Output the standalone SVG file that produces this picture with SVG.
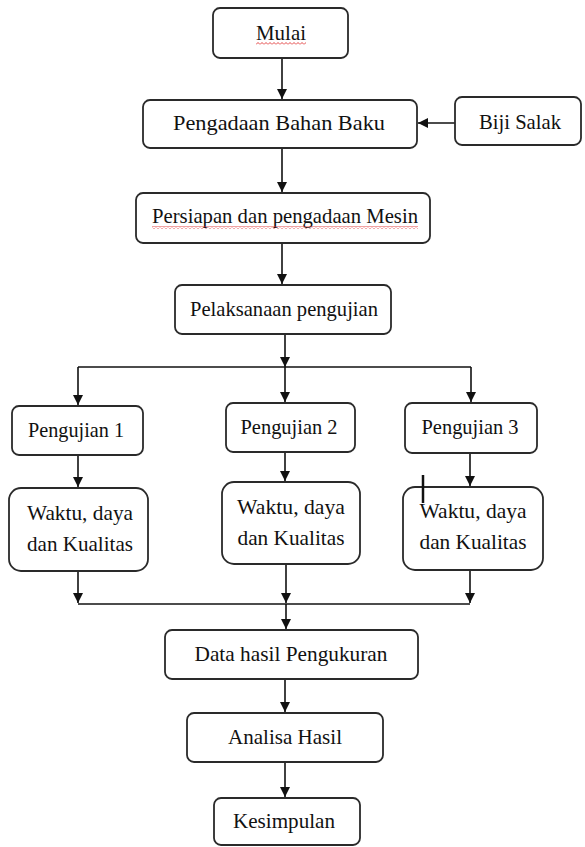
<svg xmlns="http://www.w3.org/2000/svg" width="585" height="847" viewBox="0 0 585 847">
<style>
.box{fill:#fff;stroke:#2a2a2a;stroke-width:1.8}
.t{font-family:'Liberation Serif','Times New Roman',serif;font-size:21px;fill:#111;text-anchor:middle}
.c{fill:none;stroke:#111;stroke-width:1.6}
</style>
<defs>
<marker id="ah" markerUnits="userSpaceOnUse" viewBox="0 0 10 10" refX="10" refY="5" markerWidth="10" markerHeight="11" orient="auto">
<path d="M0,0 L10,5 L0,10 z" fill="#111"/>
</marker>
<pattern id="wavy" width="4" height="3" patternUnits="userSpaceOnUse">
<path d="M0,2.5 L2,0.5 L4,2.5" fill="none" stroke="#e03030" stroke-width="0.9"/>
</pattern>
</defs>
<rect width="585" height="847" fill="#fff"/>
<g id="connectors">
<path class="c" d="M282,58 V99" marker-end="url(#ah)"/>
<path class="c" d="M455,123 H418" marker-end="url(#ah)"/>
<path class="c" d="M282,148 V192" marker-end="url(#ah)"/>
<path class="c" d="M282,243 V284" marker-end="url(#ah)"/>
<path class="c" d="M285,334 V367" marker-end="url(#ah)"/>
<path class="c" d="M78,367 H471"/>
<path class="c" d="M78,367 V405" marker-end="url(#ah)"/>
<path class="c" d="M285,367 V402" marker-end="url(#ah)"/>
<path class="c" d="M471,367 V402" marker-end="url(#ah)"/>
<path class="c" d="M78,455 V487" marker-end="url(#ah)"/>
<path class="c" d="M285,452 V481" marker-end="url(#ah)"/>
<path class="c" d="M470,453 V486" marker-end="url(#ah)"/>
<path class="c" d="M78,571 V603" marker-end="url(#ah)"/>
<path class="c" d="M286,564 V603" marker-end="url(#ah)"/>
<path class="c" d="M470,570 V603" marker-end="url(#ah)"/>
<path class="c" d="M78,604 H470"/>
<path class="c" d="M286,604 V629" marker-end="url(#ah)"/>
<path class="c" d="M285,679 V712" marker-end="url(#ah)"/>
<path class="c" d="M285,762 V797" marker-end="url(#ah)"/>
</g>
<g id="mulai">
<rect class="box" x="213" y="8" width="135" height="50" rx="7"/>
<text class="t" x="281" y="40" textLength="50" lengthAdjust="spacingAndGlyphs">Mulai</text>
<rect x="256" y="42" width="50" height="3" fill="url(#wavy)"/>
</g>
<g id="pengadaan">
<rect class="box" x="143" y="100" width="274" height="48" rx="7"/>
<text class="t" x="279" y="130" textLength="212" lengthAdjust="spacingAndGlyphs">Pengadaan Bahan Baku</text>
</g>
<g id="biji-salak">
<rect class="box" x="455" y="97" width="126" height="48" rx="7"/>
<text class="t" x="520" y="129" textLength="82" lengthAdjust="spacingAndGlyphs">Biji Salak</text>
</g>
<g id="persiapan">
<rect class="box" x="136" y="193" width="294" height="50" rx="7"/>
<text class="t" x="285" y="223" textLength="266" lengthAdjust="spacingAndGlyphs">Persiapan dan pengadaan Mesin</text>
<rect x="152" y="226" width="266" height="3" fill="url(#wavy)"/>
</g>
<g id="pelaksanaan">
<rect class="box" x="175" y="285" width="216" height="49" rx="7"/>
<text class="t" x="284" y="316" textLength="188" lengthAdjust="spacingAndGlyphs">Pelaksanaan pengujian</text>
</g>
<g id="pengujian1">
<rect class="box" x="12" y="406" width="131" height="49" rx="7"/>
<text class="t" x="76" y="437" textLength="96" lengthAdjust="spacingAndGlyphs">Pengujian 1</text>
</g>
<g id="pengujian2">
<rect class="box" x="226" y="403" width="129" height="49" rx="7"/>
<text class="t" x="289" y="434" textLength="97" lengthAdjust="spacingAndGlyphs">Pengujian 2</text>
</g>
<g id="pengujian3">
<rect class="box" x="405" y="403" width="132" height="50" rx="7"/>
<text class="t" x="470" y="434" textLength="97" lengthAdjust="spacingAndGlyphs">Pengujian 3</text>
</g>
<g id="waktu1">
<rect class="box" x="9" y="488" width="139" height="83" rx="12"/>
<text class="t" x="80" y="520" textLength="106" lengthAdjust="spacingAndGlyphs">Waktu, daya</text>
<text class="t" x="80" y="551" textLength="106" lengthAdjust="spacingAndGlyphs">dan Kualitas</text>
</g>
<g id="waktu2">
<rect class="box" x="222" y="482" width="138" height="82" rx="12"/>
<text class="t" x="291" y="514" textLength="108" lengthAdjust="spacingAndGlyphs">Waktu, daya</text>
<text class="t" x="291" y="545" textLength="107" lengthAdjust="spacingAndGlyphs">dan Kualitas</text>
</g>
<g id="waktu3">
<rect class="box" x="403" y="487" width="140" height="83" rx="12"/>
<text class="t" x="473" y="518" textLength="107" lengthAdjust="spacingAndGlyphs">Waktu, daya</text>
<text class="t" x="473" y="549" textLength="107" lengthAdjust="spacingAndGlyphs">dan Kualitas</text>
<line x1="423" y1="475" x2="423" y2="503" stroke="#111" stroke-width="2.5"/>
</g>
<g id="data">
<rect class="box" x="165" y="630" width="253" height="49" rx="7"/>
<text class="t" x="291" y="661" textLength="193" lengthAdjust="spacingAndGlyphs">Data hasil Pengukuran</text>
</g>
<g id="analisa">
<rect class="box" x="187" y="713" width="196" height="49" rx="7"/>
<text class="t" x="285" y="744" textLength="114" lengthAdjust="spacingAndGlyphs">Analisa Hasil</text>
</g>
<g id="kesimpulan">
<rect class="box" x="214" y="798" width="146" height="47" rx="7"/>
<text class="t" x="284" y="828" textLength="102" lengthAdjust="spacingAndGlyphs">Kesimpulan</text>
</g>
</svg>
